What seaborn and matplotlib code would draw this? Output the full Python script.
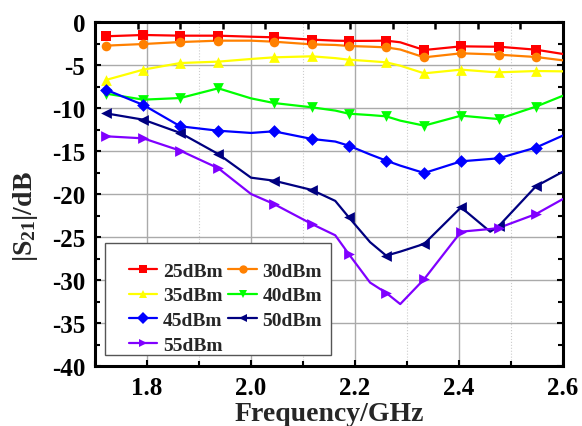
import numpy as np
import pandas as pd
import matplotlib
matplotlib.use("Agg")
import matplotlib.pyplot as plt
from matplotlib.lines import Line2D
from matplotlib.patches import Rectangle
from matplotlib.ticker import MultipleLocator
import seaborn as sns

freq = [1.721, 1.793, 1.864, 1.937, 2.000, 2.044, 2.117, 2.162, 2.188,
        2.229, 2.260, 2.287, 2.333, 2.404, 2.460, 2.476, 2.548, 2.600]
marker_idx = [0, 1, 2, 3, 5, 6, 8, 10, 12, 13, 15, 16]

labels = ["25dBm", "30dBm", "35dBm", "40dBm", "45dBm", "50dBm", "55dBm"]
s25 = [-1.66, -1.51, -1.59, -1.59, -1.71, -1.78, -2.05, -2.17, -2.20,
       -2.19, -2.17, -2.36, -3.26, -2.83, -2.87, -2.87, -3.22, -3.72]
s30 = [-2.75, -2.56, -2.33, -2.17, -2.17, -2.29, -2.60, -2.67, -2.79,
       -2.87, -2.95, -3.20, -4.11, -3.64, -3.75, -3.80, -4.07, -4.46]
s35 = [-6.74, -5.54, -4.77, -4.61, -4.30, -4.11, -3.99, -4.20, -4.38,
       -4.55, -4.69, -5.08, -5.97, -5.54, -5.80, -5.85, -5.70, -5.74]
s40 = [-8.33, -9.03, -8.84, -7.71, -8.88, -9.42, -9.92, -10.30, -10.66,
       -10.82, -10.97, -11.47, -12.05, -10.89, -11.20, -11.28, -9.84, -8.57]
s45 = [-7.87, -9.65, -12.13, -12.64, -12.90, -12.71, -13.60, -13.90, -14.38,
       -15.40, -16.12, -16.70, -17.56, -16.20, -15.93, -15.85, -14.60, -13.20]
s50 = [-10.62, -11.36, -12.90, -15.35, -18.10, -18.45, -19.53, -20.80, -22.70,
       -25.60, -27.17, -26.70, -25.80, -21.55, -24.38, -23.76, -19.10, -17.40]
s55 = [-13.29, -13.53, -14.96, -17.00, -20.00, -21.16, -23.49, -24.80, -26.98,
       -30.30, -31.50, -32.80, -29.90, -24.38, -24.07, -23.95, -22.33, -20.58]
series = [s25, s30, s35, s40, s45, s50, s55]

colors = ["#FF0000", "#FF8000", "#FFFF00", "#00FF00", "#0000FF", "#000080", "#8000FF"]
markers = ["s", "o", "^", "v", "D", "<", ">"]
msizes = [42, 48, 60, 60, 42, 60, 60]

rows = []
for lab, vals in zip(labels, series):
    for i, (f, v) in enumerate(zip(freq, vals)):
        rows.append({"freq": f, "s21": v, "power": lab, "mark": i in marker_idx})
df = pd.DataFrame(rows)

sns.set_theme(style="white")
plt.rcParams["font.family"] = ["Liberation Serif", "DejaVu Serif"]
plt.rcParams["font.weight"] = "bold"
plt.rcParams["mathtext.fontset"] = "custom"
plt.rcParams["mathtext.rm"] = "Liberation Serif:bold"
plt.rcParams["mathtext.bf"] = "Liberation Serif:bold"
plt.rcParams["mathtext.it"] = "Liberation Serif:bold"
plt.rcParams["mathtext.default"] = "rm"

fig = plt.figure(figsize=(5.82, 4.27), dpi=100)
ax = fig.add_axes([95/582, 1-367/427, (563-95)/582, (367-23)/427])

pal = dict(zip(labels, colors))
sns.lineplot(data=df, x="freq", y="s21", hue="power", palette=pal,
             linewidth=1.6, legend=False, ax=ax, sort=False, zorder=3)
mk = df[df["mark"]]
for lab, m, c, s in zip(labels, markers, colors, msizes):
    sub = mk[mk["power"] == lab]
    sns.scatterplot(data=sub, x="freq", y="s21", color=c, marker=m, s=s,
                    edgecolor=c, linewidth=0, legend=False, ax=ax, zorder=4)

ax.set_xlim(1.70, 2.60)
ax.set_ylim(-40, 0)
ax.xaxis.set_major_locator(MultipleLocator(0.2))
ax.xaxis.set_minor_locator(MultipleLocator(0.1))
ax.yaxis.set_major_locator(MultipleLocator(5))
ax.yaxis.set_minor_locator(MultipleLocator(2.5))
ax.set_xticks([1.8, 2.0, 2.2, 2.4, 2.6])
ax.set_xticklabels(["1.8", "2.0", "2.2", "2.4", "2.6"])
ax.set_yticks(list(range(0, -45, -5)))
ax.set_yticklabels([str(v) for v in range(0, -45, -5)])

ax.grid(which="major", color="#AAAAAA", linewidth=1.0, linestyle="-", zorder=0)
ax.xaxis.grid(which="minor", color="#CCCCCC", linewidth=0.8, linestyle=":", zorder=0)
ax.set_axisbelow(True)

ax.tick_params(which="both", direction="in", top=False, right=True,
               left=True, bottom=True, width=1.5, labelsize=18, colors="black")
ax.tick_params(which="major", length=4.5, pad=7)
ax.tick_params(which="minor", length=3.5)
for lab in ax.get_xticklabels() + ax.get_yticklabels():
    lab.set_fontweight("bold")

ax2 = ax.twiny()
ax2.set_xlim(1.70, 2.60)
ax2.set_xticks(np.linspace(1.70, 2.60, 12))
ax2.tick_params(axis="x", direction="in", length=5, width=1.8,
                labeltop=False, top=True, color="black")
ax2.grid(False)
for sp in ax2.spines.values():
    sp.set_visible(False)

for sp in ax.spines.values():
    sp.set_linewidth(2.2)
    sp.set_color("black")

ax.set_xlabel("Frequency/GHz", fontsize=20, fontweight="bold", labelpad=2)
ax.set_ylabel("|S$_{21}$|/dB", fontsize=20, fontweight="bold")
ax.yaxis.set_label_coords(-0.1175, 0.436)

# legend box drawn as a patch, legend entries placed inside it
box = Rectangle((10/468, 11.3/344), 226/468, 112/344, transform=ax.transAxes,
                facecolor="white", edgecolor="#555555", linewidth=1.0, zorder=5)
ax.add_patch(box)

order = [0, 2, 4, 6, 1, 3, 5]
handles = [Line2D([0], [0], color=colors[i], marker=markers[i], markersize=6,
                  linewidth=1.6, markeredgewidth=0) for i in order]
leg = ax.legend(handles, [labels[i] for i in order], ncol=2, loc="center left",
                bbox_to_anchor=((129-95)/468, (367-308.9)/344), borderaxespad=0,
                prop={"family": "Liberation Serif", "weight": "bold", "size": 14},
                frameon=False, handlelength=1.45, handletextpad=0.3,
                columnspacing=0.3, labelspacing=0.36, borderpad=0)
leg.set_zorder(6)

fig.savefig("out.png", dpi=100)
